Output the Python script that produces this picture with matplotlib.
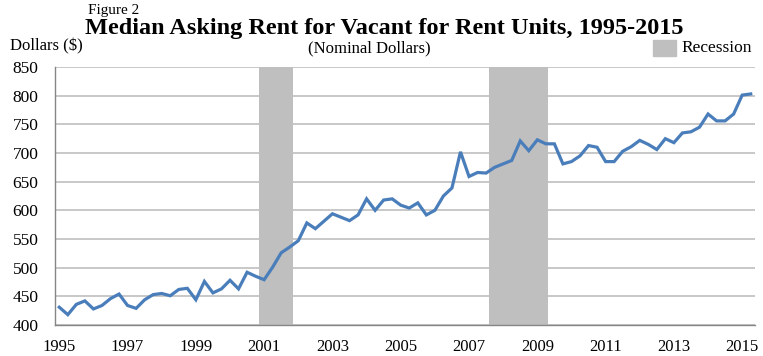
import matplotlib
matplotlib.use("Agg")
import matplotlib.pyplot as plt
import numpy as np

# Quarterly median asking rent, 1995 Q1 - 2015 Q2
rent = [431, 418, 436, 442, 428, 434, 446, 454,
        434, 429, 444, 453, 455, 451, 462, 464,
        444, 476, 456, 463, 478, 463, 492, 485,
        479, 501, 526, 536, 547, 578, 568, 581,
        594, 588, 582, 592, 620, 600, 618, 620,
        609, 604, 613, 592, 600, 625, 639, 702,
        659, 666, 665, 675, 681, 687, 721, 704,
        723, 716, 716, 681, 685, 695, 713, 710,
        685, 685, 703, 711, 722, 715, 706, 725,
        718, 735, 737, 745, 768, 756, 756, 768,
        801, 803]
tick_labels = ["1995", "1997", "1999", "2001", "2003", "2005",
               "2007", "2009", "2011", "2013", "2015"]
# recession spans in quarter-index coordinates
recessions = [(23.4, 27.4), (50.3, 57.3)]

serif = ["Liberation Serif", "DejaVu Serif"]
plt.rcParams["font.family"] = serif

fig = plt.figure(figsize=(7.63, 3.56), dpi=100)
ax = fig.add_axes([0.0721, 0.0871, 0.9174, 0.7247])

x = np.arange(len(rent))
for a, b in recessions:
    ax.axvspan(a, b, color="#BFBFBF", lw=0, zorder=1)
ax.plot(x, rent, color="#4A7EBB", lw=2.3, zorder=3, solid_joinstyle="miter")

ax.set_xlim(-0.5, len(rent) - 0.5)
ax.set_ylim(400, 850)
ax.set_yticks(np.arange(400, 851, 50))
ax.set_xticks(np.arange(0, len(rent), 8))
ax.set_xticklabels(tick_labels)
ax.yaxis.grid(True, color="#BFBFBF", lw=1.2, zorder=0)
ax.set_axisbelow(True)
for s in ["top", "right"]:
    ax.spines[s].set_visible(False)
for s in ["left", "bottom"]:
    ax.spines[s].set_color("#868686")
    ax.spines[s].set_linewidth(1.0)
ax.tick_params(axis="both", length=0, labelsize=12)
ax.tick_params(axis="y", labelsize=12.5, pad=12)
ax.tick_params(axis="x", pad=10)

fig.text(0.115, 0.988, "Figure 2", fontsize=11, va="top", ha="left")
fig.text(0.503, 0.92, "Median Asking Rent for Vacant for Rent Units, 1995-2015",
         fontsize=17.5, fontweight="bold", ha="center", va="center")
fig.text(0.013, 0.87, "Dollars ($)", fontsize=12, ha="left", va="center")
fig.text(0.484, 0.865, "(Nominal Dollars)", fontsize=12, ha="center", va="center")

# legend
fig.patches.append(matplotlib.patches.Rectangle((653 / 763, 1 - 56 / 356), 23 / 763, 16 / 356,
                                                transform=fig.transFigure, color="#BFBFBF"))
fig.text(681 / 763, 1 - 48 / 356, "Recession", fontsize=12.5, ha="left", va="center")

fig.savefig("out.png", dpi=100)
